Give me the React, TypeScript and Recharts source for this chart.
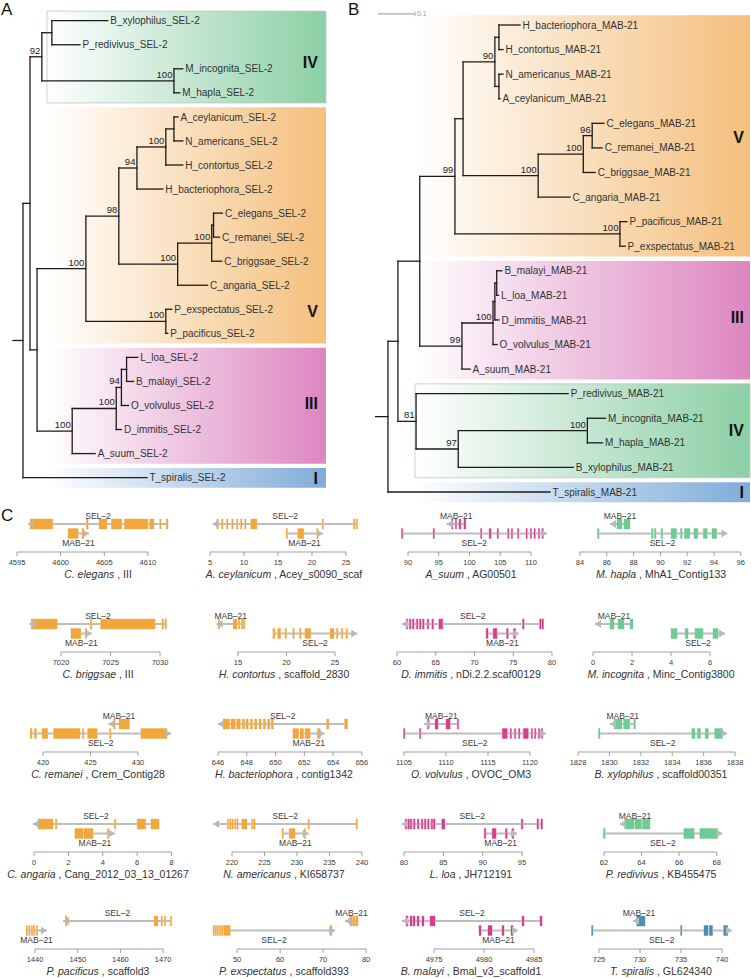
import React from 'react';
import { ScatterChart, Scatter, XAxis, YAxis, ReferenceArea, ReferenceLine, Label } from 'recharts';

type Exon = [number, number];
type Gene = [string, Exon[], number];

const FONT = '"Liberation Sans", Arial, Helvetica, sans-serif';
const ORANGE = '#f2a73c';
const MAGENTA = '#d83d8f';
const GREEN = '#6fca93';
const TEAL = '#4a8db2';

// ---------- A / B: SEL-2 and MAB-21 trees (newick, subs/site, bootstrap as node label)
const sel2Tree =
  '((((B_xylophilus_SEL-2:0.151,P_redivivus_SEL-2:0.076):0.027,(M_incognita_SEL-2:0.024,M_hapla_SEL-2:0.016)100:0.357)92:0.032,' +
  '((((((A_ceylanicum_SEL-2:0.011,N_americans_SEL-2:0.024):0.022,H_contortus_SEL-2:0.046)100:0.078,H_bacteriophora_SEL-2:0.070)94:0.049,' +
  '(((C_elegans_SEL-2:0.024,C_remanei_SEL-2:0.016):0.005,C_briggsae_SEL-2:0.027)100:0.092,C_angaria_SEL-2:0.081)100:0.159)98:0.089,' +
  '(P_exspectatus_SEL-2:0.016,P_pacificus_SEL-2:0.005)100:0.216)100:0.132,' +
  '((((L_loa_SEL-2:0.030,B_malayi_SEL-2:0.019):0.014,O_volvulus_SEL-2:0.019)94:0.014,D_immitis_SEL-2:0.014)100:0.119,A_suum_SEL-2:0.062)100:0.095' +
  '):0.019):0.019,T_spiralis_SEL-2:0.335):0.027;';

const mab21Tree =
  '(((((((H_bacteriophora_MAB-21:0.057,H_contortus_MAB-21:0.011):0.011,(N_americanus_MAB-21:0.011,A_ceylanicum_MAB-21:0.003):0.011)90:0.086,' +
  '(((C_elegans_MAB-21:0.032,C_remanei_MAB-21:0.027)96:0.024,C_briggsae_MAB-21:0.032)100:0.122,C_angaria_MAB-21:0.086)100:0.203):0.022,' +
  '(P_pacificus_MAB-21:0.019,P_exspectatus_MAB-21:0.014)100:0.446)99:0.095,' +
  '((((B_malayi_MAB-21:0.014,L_loa_MAB-21:0.005):0.005,D_immitis_MAB-21:0.011):0.005,O_volvulus_MAB-21:0.011)100:0.084,A_suum_MAB-21:0.022)99:0.114):0.059,' +
  '(P_redivivus_MAB-21:0.411,((M_incognita_MAB-21:0.049,M_hapla_MAB-21:0.041)100:0.349,B_xylophilus_MAB-21:0.311)97:0.114)81:0.049):0.027,' +
  'T_spiralis_MAB-21:0.438):0.035;';

// clade, first leaf, last leaf, row of the roman label
const sel2Clades: [string, number, number, number][] = [
  ['IV', 0, 3, 1.72],
  ['V', 4, 13, 12.07],
  ['III', 14, 18, 15.9],
  ['I', 19, 19, 19.02],
];
const mab21Clades: [string, number, number, number][] = [
  ['V', 0, 9, 4.56],
  ['III', 10, 14, 11.9],
  ['IV', 15, 18, 16.5],
  ['I', 19, 19, 19.0],
];
const CLADE_FILL: Record<string, string> = { I: '#80acd9', III: '#dd86c0', IV: '#8ccfa5', V: '#f4bf7c' };

// ---------- C: gene models, kb on scaffold; third value = arrow tip (3' end)
const celTicks = [4595, 4600, 4605, 4610];
const celSel2: Exon[] = [[4596.5, 4599.1], [4602.95, 4603.15], [4604.4, 4605.3], [4605.8, 4607.0], [4607.3, 4610.0], [4610.2, 4610.7], [4611.35, 4611.5], [4612.1, 4612.3]];
const celMab21: Exon[] = [[4600.85, 4602.0], [4602.45, 4602.65]];

const aceTicks = [5, 10, 15, 20, 25];
const aceSel2: Exon[] = [[6.0, 6.2], [6.7, 6.9], [7.45, 7.65], [8.2, 8.4], [8.9, 9.1], [9.5, 9.7], [10.1, 10.3], [11.0, 11.9], [21.5, 21.7], [26.1, 26.3], [26.5, 26.7]];
const aceMab21: Exon[] = [[16.2, 16.4], [17.9, 18.8], [20.7, 20.9]];

const asuTicks = [90, 95, 100, 105, 110];
const asuMab21: Exon[] = [[97.1, 97.3], [97.7, 97.9], [98.3, 98.6], [99.1, 99.4]];
const asuSel2: Exon[] = [[88.95, 89.15], [94.1, 94.3], [101.8, 102.0], [103.2, 103.5], [104.5, 104.7], [106.2, 106.4], [106.8, 107.0], [107.8, 108.0], [109.2, 109.4], [109.9, 110.1], [110.5, 110.7], [111.2, 111.4], [111.8, 112.0]];

const mhaTicks = [84, 86, 88, 90, 92, 94, 96];
const mhaMab21: Exon[] = [[86.76, 87.13], [87.28, 87.73]];
const mhaSel2: Exon[] = [[85.3, 85.42], [89.33, 89.45], [89.55, 89.67], [90.05, 90.17], [90.8, 91.2], [91.5, 91.62], [91.8, 92.2], [92.5, 92.8], [93.2, 93.5], [93.85, 94.2]];

const cbrTicks = [7020, 7025, 7030];
const cbrSel2: Exon[] = [[7017.0, 7019.6], [7022.95, 7023.1], [7024.0, 7029.5], [7030.2, 7030.35], [7030.5, 7030.65]];
const cbrMab21: Exon[] = [[7021.0, 7022.0], [7022.45, 7022.6]];

const hcoTicks = [15, 20, 25];
const hcoMab21: Exon[] = [[12.95, 13.1], [14.5, 14.9], [15.05, 15.2], [15.35, 15.5], [15.55, 15.7]];
const hcoSel2: Exon[] = [[18.6, 18.8], [19.1, 19.4], [19.85, 20.0], [20.65, 20.8], [21.35, 21.5], [21.9, 22.5], [24.5, 24.9], [25.15, 25.3], [25.65, 25.8], [26.15, 26.3]];

const dimTicks = [60, 65, 70, 75, 80];
const dimSel2: Exon[] = [[61.2, 61.4], [61.6, 61.8], [62.0, 62.2], [62.5, 62.7], [62.9, 63.1], [63.3, 63.5], [63.9, 64.1], [64.5, 64.7], [65.4, 65.9], [76.2, 76.4], [78.4, 78.6], [78.7, 78.9]];
const dimMab21: Exon[] = [[71.5, 71.75], [72.4, 72.9], [74.15, 74.35], [75.05, 75.3]];

const minTicks = [0, 2, 4, 6];
const minMab21: Exon[] = [[0.87, 1.08], [1.28, 1.59], [1.9, 2.05]];
const minSel2: Exon[] = [[4.0, 4.31], [4.72, 4.87], [5.23, 5.64], [6.15, 6.41]];

const creTicks = [420, 425, 430];
const creMab21: Exon[] = [[427.45, 427.6], [428.0, 429.1]];
const creSel2: Exon[] = [[418.65, 418.85], [419.1, 419.3], [419.9, 420.5], [421.1, 423.9], [424.15, 424.3], [424.7, 425.7], [427.0, 427.15], [430.3, 433.05]];

const hbaTicks = [646, 648, 650, 652, 654, 656];
const hbaSel2: Exon[] = [[646.35, 646.8], [646.9, 647.2], [647.3, 647.55], [647.7, 647.85], [647.95, 648.1], [648.25, 648.4], [648.55, 648.7], [648.85, 649.0], [649.15, 649.3], [649.45, 649.6], [649.7, 649.85], [653.55, 653.7], [654.8, 655.0]];
const hbaMab21: Exon[] = [[651.2, 651.6], [651.7, 651.95], [652.05, 652.4], [652.9, 653.1]];

const ovoTicks = [1105, 1110, 1115, 1120];
const ovoMab21: Exon[] = [[1107.8, 1107.95], [1108.7, 1109.05], [1110.0, 1110.5], [1111.35, 1111.5]];
const ovoSel2: Exon[] = [[1104.95, 1105.1], [1106.85, 1107.0], [1116.7, 1117.3], [1117.65, 1117.8], [1118.15, 1118.3], [1118.65, 1118.8], [1119.2, 1119.8], [1120.15, 1120.3], [1120.55, 1120.7], [1121.0, 1121.15], [1121.35, 1121.5]];

const bxyTicks = [1828, 1830, 1832, 1834, 1836, 1838];
const bxyMab21: Exon[] = [[1830.3, 1830.8], [1830.9, 1831.3], [1831.55, 1831.65]];
const bxySel2: Exon[] = [[1829.3, 1829.4], [1835.25, 1835.45], [1835.6, 1835.8], [1836.1, 1836.3], [1836.7, 1837.2]];

const cangTicks = [0, 2, 4, 6, 8];
const cangSel2: Exon[] = [[0.23, 1.1], [1.25, 1.33], [4.68, 4.76], [6.0, 6.5], [6.8, 7.27]];
const cangMab21: Exon[] = [[2.38, 2.85], [2.9, 3.43], [4.26, 4.34]];

const nameTicks = [220, 225, 230, 235, 240];
const nameSel2: Exon[] = [[219.3, 219.5], [219.65, 219.85], [220.0, 220.2], [220.4, 220.6], [220.75, 220.95], [221.5, 222.3], [223.0, 223.2], [223.35, 223.55], [231.7, 231.9], [239.1, 239.3]];
const nameMab21: Exon[] = [[227.7, 227.9], [228.8, 229.7], [231.1, 231.3]];

const lloTicks = [80, 85, 90, 95];
const lloSel2: Exon[] = [[80.15, 80.35], [80.5, 80.7], [80.8, 81.0], [81.2, 81.4], [81.7, 81.9], [82.2, 82.4], [82.6, 82.8], [83.0, 83.2], [83.45, 83.65], [83.75, 83.95], [84.8, 85.2], [94.9, 95.1], [96.9, 97.1], [97.4, 97.6]];
const lloMab21: Exon[] = [[90.2, 90.4], [91.2, 91.7], [92.9, 93.1], [93.75, 93.95]];

const preTicks = [62, 64, 66, 68];
const preMab21: Exon[] = [[63.1, 63.6], [63.65, 64.0], [64.05, 64.45]];
const preSel2: Exon[] = [[61.97, 62.07], [66.25, 66.8], [67.1, 68.05]];

const ppaTicks = [1440, 1450, 1460, 1470];
const ppaSel2: Exon[] = [[1447.1, 1447.5], [1467.9, 1468.8], [1469.55, 1469.85], [1470.3, 1470.6], [1471.7, 1472.0]];
const ppaMab21: Exon[] = [[1437.9, 1438.2], [1438.5, 1438.8], [1439.1, 1439.4], [1439.6, 1439.9], [1440.3, 1440.6]];

const pexTicks = [50, 60, 70, 80];
const pexMab21: Exon[] = [[76.2, 76.7], [76.85, 77.35], [77.5, 78.1]];
const pexSel2: Exon[] = [[44.4, 44.7], [44.9, 45.2], [45.4, 45.7], [45.9, 46.2], [46.4, 46.7], [46.9, 48.4], [71.6, 72.0]];

const bmaTicks = [4975, 4980, 4985];
const bmaSel2: Exon[] = [[4972.2, 4972.4], [4972.6, 4972.8], [4972.9, 4973.1], [4973.3, 4973.5], [4973.8, 4974.0], [4974.6, 4975.1], [4983.8, 4984.0], [4985.6, 4985.8]];
const bmaMab21: Exon[] = [[4979.5, 4979.7], [4980.4, 4980.8], [4981.8, 4982.0], [4982.7, 4982.9]];

const tspTicks = [725, 730, 735, 740];
const tspMab21: Exon[] = [[729.6, 730.6]];
const tspSel2: Exon[] = [[724.1, 724.25], [734.95, 735.1], [737.8, 738.3], [738.45, 738.85], [740.2, 740.7]];

type Panel = { sp: string; sc: string; col: string; ticks: number[]; dom: [number, number]; top: Gene; bot: Gene };

const S = 'SEL–2';
const M = 'MAB–21';
const panels: Panel[] = [
  { sp: 'C. elegans', sc: 'III', col: ORANGE, ticks: celTicks, dom: [4594.77, 4613.79], top: [S, celSel2, 4596.26], bot: [M, celMab21, 4603.25] },
  { sp: 'A. ceylanicum', sc: 'Acey_s0090_scaf', col: ORANGE, ticks: aceTicks, dom: [3.68, 28.09], top: [S, aceSel2, 5.4], bot: [M, aceMab21, 21.6] },
  { sp: 'A_suum', sc: 'AG00501', col: MAGENTA, ticks: asuTicks, dom: [86.75, 113.74], top: [M, asuMab21, 96.3], bot: [S, asuSel2, 112.6] },
  { sp: 'M. hapla', sc: 'MhA1_Contig133', col: GREEN, ticks: mhaTicks, dom: [83.85, 96.24], top: [M, mhaMab21, 86.24], bot: [S, mhaSel2, 95.0] },
  { sp: 'C. briggsae', sc: 'III', col: ORANGE, ticks: cbrTicks, dom: [7015.35, 7032.12], top: [S, cbrSel2, 7016.8], bot: [M, cbrMab21, 7023.1] },
  { sp: 'H. contortus', sc: 'scaffold_2830', col: ORANGE, ticks: hcoTicks, dom: [11.19, 28.3], top: [M, hcoMab21, 12.8], bot: [S, hcoSel2, 27.3] },
  { sp: 'D. immitis', sc: 'nDi.2.2.scaf00129', col: MAGENTA, ticks: dimTicks, dom: [58.84, 80.26], top: [S, dimSel2, 60.65], bot: [M, dimMab21, 75.7] },
  { sp: 'M. incognita', sc: 'Minc_Contig3800', col: GREEN, ticks: minTicks, dom: [-0.77, 7.74], top: [M, minMab21, 0.1], bot: [S, minSel2, 6.77] },
  { sp: 'C. remanei', sc: 'Crem_Contig28', col: ORANGE, ticks: creTicks, dom: [417.05, 434.53], top: [M, creMab21, 426.9], bot: [S, creSel2, 433.5] },
  { sp: 'H. bacteriophora', sc: 'contig1342', col: ORANGE, ticks: hbaTicks, dom: [644.82, 656.35], top: [S, hbaSel2, 646.0], bot: [M, hbaMab21, 653.4] },
  { sp: 'O. volvulus', sc: 'OVOC_OM3', col: MAGENTA, ticks: ovoTicks, dom: [1103.1, 1122.86], top: [M, ovoMab21, 1107.4], bot: [S, ovoSel2, 1121.9] },
  { sp: 'B. xylophilus', sc: 'scaffold00351', col: GREEN, ticks: bxyTicks, dom: [1828.0, 1838.57], top: [M, bxyMab21, 1830.04], bot: [S, bxySel2, 1837.5] },
  { sp: 'C. angaria', sc: 'Cang_2012_03_13_01267', col: ORANGE, ticks: cangTicks, dom: [-1.105, 8.55], top: [S, cangSel2, -0.06], bot: [M, cangMab21, 4.7] },
  { sp: 'N. americanus', sc: 'KI658737', col: ORANGE, ticks: nameTicks, dom: [215.23, 240.77], top: [S, nameSel2, 217.1], bot: [M, nameMab21, 231.8] },
  { sp: 'L. loa', sc: 'JH712191', col: MAGENTA, ticks: lloTicks, dom: [77.97, 99.06], top: [S, lloSel2, 79.75], bot: [M, lloMab21, 94.36] },
  { sp: 'P. redivivus', sc: 'KB455475', col: GREEN, ticks: preTicks, dom: [60.62, 69.45], top: [M, preMab21, 62.85], bot: [S, preSel2, 68.3] },
  { sp: 'P. pacificus', sc: 'scaffold3', col: ORANGE, ticks: ppaTicks, dom: [1435.3, 1474.2], top: [S, ppaSel2, 1446.6], bot: [M, ppaMab21, 1442.8] },
  { sp: 'P. exspectatus', sc: 'scaffold393', col: ORANGE, ticks: pexTicks, dom: [41.6, 80.2], top: [M, pexMab21, 75.1], bot: [S, pexSel2, 72.8] },
  { sp: 'B. malayi', sc: 'Bmal_v3_scaffold1', col: MAGENTA, ticks: bmaTicks, dom: [4970.4, 4987.0], top: [S, bmaSel2, 4971.8], bot: [M, bmaMab21, 4983.4] },
  { sp: 'T. spiralis', sc: 'GL624340', col: TEAL, ticks: tspTicks, dom: [722.44, 742.68], top: [M, tspMab21, 729.15], bot: [S, tspSel2, 741.2] },
];

const COL_X = [15, 201, 388, 578];
const ROW_AXIS = [552, 652, 752, 852, 949];

// ---------- tree helpers
type TNode = { name: string; len: number; support: string; kids: TNode[]; x: number; y: number };

function parseNewick(src: string): TNode {
  let i = 0;
  const read = (stop: string) => {
    let s = '';
    while (i < src.length && !stop.includes(src[i])) s += src[i++];
    return s;
  };
  const node = (): TNode => {
    const n: TNode = { name: '', len: 0, support: '', kids: [], x: 0, y: 0 };
    if (src[i] === '(') {
      do {
        i++;
        n.kids.push(node());
      } while (src[i] === ',');
      i++;
    }
    const lab = read(':,);');
    if (n.kids.length) n.support = lab;
    else n.name = lab;
    if (src[i] === ':') {
      i++;
      n.len = parseFloat(read(',);'));
    }
    return n;
  };
  return node();
}

function treeMarks(src: string) {
  const root = parseNewick(src);
  let leaf = 0;
  const place = (n: TNode, px: number) => {
    n.x = px + n.len;
    n.kids.forEach((k) => place(k, n.x));
    n.y = n.kids.length ? (n.kids[0].y + n.kids[n.kids.length - 1].y) / 2 : leaf++;
  };
  place(root, 0);
  const segs: { x1: number; y1: number; x2: number; y2: number }[] = [];
  const leaves: { x: number; y: number; label: string }[] = [];
  const supports: { x: number; y: number; label: string }[] = [];
  const walk = (n: TNode, px: number) => {
    segs.push({ x1: px, y1: n.y, x2: n.x, y2: n.y });
    if (n.kids.length) {
      segs.push({ x1: n.x, y1: n.kids[0].y, x2: n.x, y2: n.kids[n.kids.length - 1].y });
      if (n.support) supports.push({ x: n.x, y: n.y, label: n.support });
      n.kids.forEach((k) => walk(k, n.x));
    } else leaves.push({ x: n.x, y: n.y, label: n.name });
  };
  walk(root, 0);
  return { segs, leaves, supports };
}

const leafText = (p: any) => (
  <text x={p.cx + 2.5} y={p.cy + 3.6} fontSize={10} fill="#333" fontFamily={FONT}>
    {p.payload.label}
  </text>
);
const supportText = (p: any) => (
  <text x={p.cx - 1.5} y={p.cy - 3} fontSize={9.5} fill="#222" textAnchor="end" fontFamily={FONT}>
    {p.payload.label}
  </text>
);
const cladeText = (p: any) => (
  <text x={p.cx} y={p.cy + 5.8} fontSize={16} fontWeight="bold" fill="#111" textAnchor="end" fontFamily={FONT}>
    {p.payload.label}
  </text>
);
const smallGray = (p: any) => (
  <text x={p.cx + 2} y={p.cy + 2.5} fontSize={7} fill="#999" fontFamily={FONT}>
    {p.payload.label}
  </text>
);
const nothing = () => <g />;

function TreeView(props: {
  id: string;
  src: string;
  clades: [string, number, number, number][];
  left: number;
  width: number;
  height: number;
  xDom: [number, number];
  yDom: [number, number];
  boxX: [number, number];
  labelX: number;
  scaleBar?: [number, number, number];
}) {
  const { id, src, clades, left, width, height, xDom, yDom, boxX, labelX, scaleBar } = props;
  const { segs, leaves, supports } = treeMarks(src);
  const cladeLabels = clades.map((c) => ({ x: labelX, y: c[3], label: c[0] }));
  const axes = (
    <>
      <XAxis type="number" dataKey="x" domain={xDom} hide />
      <YAxis type="number" dataKey="y" domain={yDom} hide reversed />
    </>
  );
  const scaleTxt = scaleBar ? [{ x: scaleBar[0] + scaleBar[1], y: scaleBar[2], label: String(scaleBar[1]) }] : [];
  return (
    <>
      <div style={{ position: 'absolute', left, top: 0 }}>
        <ScatterChart width={width} height={height} margin={{ top: 0, right: 0, bottom: 0, left: 0 }}>
          <defs>
            {clades.map((c) => (
              <linearGradient key={c[0]} id={`${id}-${c[0]}`} x1="0" y1="0" x2="1" y2="0">
                <stop offset="0" stopColor="#ffffff" />
                <stop offset="1" stopColor={CLADE_FILL[c[0]]} />
              </linearGradient>
            ))}
          </defs>
          {axes}
          {clades.map((c) => (
            <ReferenceArea
              key={c[0]}
              x1={boxX[0]}
              x2={boxX[1]}
              y1={c[1] - 0.4}
              y2={c[2] + 0.42}
              fill={`url(#${id}-${c[0]})`}
              fillOpacity={1}
              stroke={c[0] === 'IV' ? '#b9c9bf' : 'none'}
              strokeWidth={0.8}
              ifOverflow="visible"
            />
          ))}
          <Scatter data={cladeLabels} shape={nothing} isAnimationActive={false} />
        </ScatterChart>
      </div>
      <div style={{ position: 'absolute', left, top: 0 }}>
        <ScatterChart width={width} height={height} margin={{ top: 0, right: 0, bottom: 0, left: 0 }}>
          {axes}
          {segs.map((s, i) => (
            <ReferenceLine
              key={i}
              segment={[
                { x: s.x1, y: s.y1 },
                { x: s.x2, y: s.y2 },
              ]}
              stroke="#1b1b1b"
              strokeWidth={1.3}
              strokeLinecap="square"
              ifOverflow="visible"
            />
          ))}
          {scaleBar && (
            <ReferenceLine
              segment={[
                { x: scaleBar[0], y: scaleBar[2] },
                { x: scaleBar[0] + scaleBar[1], y: scaleBar[2] },
              ]}
              stroke="#a8a8a8"
              strokeWidth={1.2}
              ifOverflow="visible"
            />
          )}
          {scaleBar && (
            <ReferenceLine
              segment={[
                { x: scaleBar[0] + scaleBar[1], y: scaleBar[2] - 0.1 },
                { x: scaleBar[0] + scaleBar[1], y: scaleBar[2] + 0.1 },
              ]}
              stroke="#a8a8a8"
              strokeWidth={1}
              ifOverflow="visible"
            />
          )}
          <Scatter data={leaves} shape={leafText} isAnimationActive={false} />
          <Scatter data={supports} shape={supportText} isAnimationActive={false} />
          <Scatter data={cladeLabels} shape={cladeText} isAnimationActive={false} />
          {scaleBar && <Scatter data={scaleTxt} shape={smallGray} isAnimationActive={false} />}
        </ScatterChart>
      </div>
    </>
  );
}

// ---------- gene panel helpers
const arrowHead = (p: any) => {
  const d = p.payload.dir;
  const { cx, cy } = p;
  return <polygon points={`${cx},${cy} ${cx - d * 6},${cy - 4} ${cx - d * 6},${cy + 4}`} fill="#b9b9b9" />;
};
const geneName = (p: any) => (
  <text x={p.cx} y={p.cy + 3} fontSize={8.5} fill="#3a3a3a" textAnchor="middle" fontFamily={FONT}>
    {p.payload.label}
  </text>
);

function speciesText(props: any, sp: string, sc: string) {
  const vb = props.viewBox || { x: 0, y: 0, width: 0 };
  return (
    <text x={vb.x + vb.width / 2} y={vb.y + 26} textAnchor="middle" fontSize={10.5} fill="#333" fontFamily={FONT}>
      <tspan fontStyle="italic">{sp}</tspan>
      <tspan>{` , ${sc}`}</tspan>
    </text>
  );
}

function GenePanel({ p, x, axisY }: { p: Panel; x: number; axisY: number }) {
  const tracks = [
    { gene: p.top, level: 28, labelY: 36.5 },
    { gene: p.bot, level: 18.5, labelY: 9 },
  ];
  const arrows: any[] = [];
  const names: any[] = [];
  const introns: { x1: number; x2: number; y: number }[] = [];
  const exons: { x1: number; x2: number; y: number }[] = [];
  tracks.forEach(({ gene, level, labelY }) => {
    const [name, ex, tip] = gene;
    const sorted = [...ex].sort((a, b) => a[0] - b[0]);
    const lo = Math.min(tip, sorted[0][0]);
    const hi = Math.max(tip, sorted[sorted.length - 1][1]);
    const dir = tip < sorted[0][0] ? -1 : 1;
    arrows.push({ x: tip, y: level, dir });
    names.push({ x: (lo + hi) / 2, y: labelY, label: name });
    let cur = lo;
    sorted.forEach((e) => {
      if (e[0] > cur) introns.push({ x1: cur, x2: e[0], y: level });
      cur = Math.max(cur, e[1]);
      exons.push({ x1: e[0], x2: e[1], y: level });
    });
    if (hi > cur) introns.push({ x1: cur, x2: hi, y: level });
  });
  const t0 = p.ticks[0];
  const t1 = p.ticks[p.ticks.length - 1];
  return (
    <div style={{ position: 'absolute', left: x - 10, top: axisY - 45 }}>
      <ScatterChart width={186} height={80} margin={{ top: 0, right: 10, bottom: 0, left: 10 }}>
        <XAxis
          type="number"
          dataKey="x"
          domain={p.dom}
          ticks={p.ticks}
          interval={0}
          axisLine={false}
          tickLine={{ stroke: '#a0a0a0' }}
          tickSize={4}
          tickMargin={4}
          height={35}
          tick={{ fontSize: 7.5, fill: '#3a3a3a', fontFamily: FONT }}
        >
          <Label content={(lp: any) => speciesText(lp, p.sp, p.sc)} />
        </XAxis>
        <YAxis type="number" dataKey="y" domain={[0, 45]} hide />
        <ReferenceLine
          segment={[
            { x: t0, y: 0 },
            { x: t1, y: 0 },
          ]}
          stroke="#a0a0a0"
          ifOverflow="visible"
        />
        {introns.map((s, i) => (
          <ReferenceLine
            key={'i' + i}
            segment={[
              { x: s.x1, y: s.y },
              { x: s.x2, y: s.y },
            ]}
            stroke="#bdbdbd"
            strokeWidth={2}
            ifOverflow="visible"
          />
        ))}
        {exons.map((e, i) => (
          <ReferenceArea
            key={'e' + i}
            x1={e.x1}
            x2={e.x2}
            y1={e.y - 5}
            y2={e.y + 5}
            fill={p.col}
            fillOpacity={1}
            stroke={p.col}
            strokeWidth={0.4}
            ifOverflow="visible"
          />
        ))}
        <Scatter data={arrows} shape={arrowHead} isAnimationActive={false} />
        <Scatter data={names} shape={geneName} isAnimationActive={false} />
      </ScatterChart>
    </div>
  );
}

export default function App() {
  const letter = { position: 'absolute' as const, fontSize: 17, fontFamily: FONT, color: '#111', lineHeight: 'normal' };
  return (
    <div style={{ position: 'absolute', left: 0, top: 0, width: 751, height: 979, background: '#fff', overflow: 'hidden' }}>
      <TreeView
        id="a"
        src={sel2Tree}
        clades={sel2Clades}
        left={0}
        width={375}
        height={500}
        xDom={[-0.03514, 0.97838]}
        yDom={[-0.861, 19.93]}
        boxX={[0.0919, 0.8459]}
        labelX={0.8243}
      />
      <TreeView
        id="b"
        src={mab21Tree}
        clades={mab21Clades}
        left={375}
        width={376}
        height={510}
        xDom={[0, 1.01622]}
        yDom={[-1.017, 19.732]}
        boxX={[0.1081, 1.0135]}
        labelX={0.9973}
        scaleBar={[0.008, 0.1, -0.45]}
      />
      <div style={{ ...letter, left: 1, top: 0 }}>A</div>
      <div style={{ ...letter, left: 348, top: 0 }}>B</div>
      <div style={{ ...letter, left: 1, top: 506 }}>C</div>
      {panels.map((p, i) => (
        <GenePanel key={i} p={p} x={COL_X[i % 4]} axisY={ROW_AXIS[Math.floor(i / 4)]} />
      ))}
    </div>
  );
}
